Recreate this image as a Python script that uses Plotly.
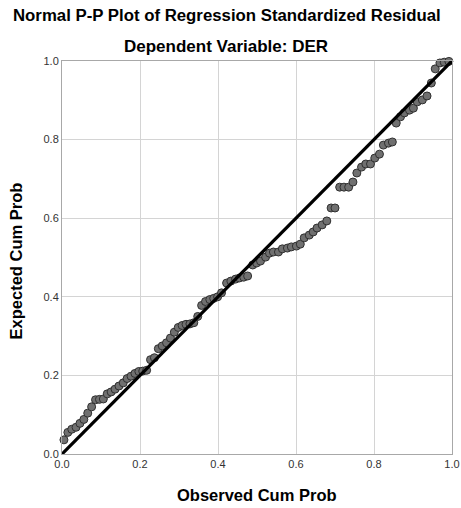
import plotly.graph_objects as go

observed = [0.005, 0.015, 0.025, 0.036, 0.046, 0.056, 0.066, 0.076, 0.086, 0.096,
            0.106, 0.116, 0.126, 0.136, 0.146, 0.157, 0.167, 0.177, 0.187, 0.197,
            0.207, 0.217, 0.227, 0.237, 0.247, 0.257, 0.268, 0.278, 0.288, 0.298,
            0.308, 0.318, 0.328, 0.338, 0.348, 0.358, 0.368, 0.379, 0.389, 0.399,
            0.409, 0.422, 0.433, 0.445, 0.455, 0.466, 0.476, 0.489, 0.499, 0.509,
            0.522, 0.532, 0.542, 0.555, 0.565, 0.578, 0.588, 0.601, 0.611, 0.621,
            0.634, 0.644, 0.654, 0.667, 0.679, 0.690, 0.700, 0.712, 0.723, 0.735,
            0.746, 0.756, 0.768, 0.779, 0.791, 0.802, 0.814, 0.824, 0.837, 0.847,
            0.857, 0.868, 0.878, 0.891, 0.901, 0.911, 0.924, 0.936, 0.947, 0.957,
            0.969, 0.980, 0.992]
expected = [0.036, 0.055, 0.063, 0.068, 0.078, 0.088, 0.104, 0.120, 0.138, 0.139,
            0.140, 0.153, 0.158, 0.165, 0.173, 0.181, 0.192, 0.198, 0.205, 0.210,
            0.211, 0.213, 0.240, 0.245, 0.268, 0.275, 0.283, 0.295, 0.310, 0.322,
            0.327, 0.330, 0.331, 0.334, 0.350, 0.378, 0.388, 0.393, 0.396, 0.400,
            0.410, 0.435, 0.440, 0.445, 0.448, 0.450, 0.453, 0.481, 0.486, 0.491,
            0.501, 0.511, 0.514, 0.514, 0.522, 0.524, 0.527, 0.529, 0.534, 0.550,
            0.557, 0.565, 0.575, 0.583, 0.593, 0.626, 0.626, 0.679, 0.679, 0.679,
            0.692, 0.715, 0.730, 0.738, 0.738, 0.753, 0.763, 0.786, 0.791, 0.794,
            0.842, 0.858, 0.868, 0.875, 0.880, 0.896, 0.901, 0.911, 0.944, 0.980,
            0.995, 0.997, 0.999]
ref_line = [0.0, 1.0]
ticks = [0.0, 0.2, 0.4, 0.6, 0.8, 1.0]
tick_text = ["0.0", "0.2", "0.4", "0.6", "0.8", "1.0"]

font = "Liberation Sans, Arial, sans-serif"

fig = go.Figure()
fig.add_trace(go.Scatter(
    x=observed, y=expected, mode="markers",
    marker=dict(size=8, color="#707070", line=dict(color="#303030", width=1)),
    cliponaxis=False, showlegend=False))
fig.add_trace(go.Scatter(
    x=ref_line, y=ref_line, mode="lines",
    line=dict(color="#000000", width=3.3), cliponaxis=False, showlegend=False))

axis_common = dict(range=[0, 1], tickvals=ticks, ticktext=tick_text,
                   showgrid=True, gridcolor="#d4d4d4", gridwidth=1,
                   showline=True, linecolor="#a8a8a8", linewidth=1, mirror=True,
                   zeroline=False, ticks="", automargin=False, ticklabeloverflow="allow",
                   tickfont=dict(family=font, size=11, color="#333333"))

fig.update_layout(
    width=461, height=508,
    margin=dict(l=62, r=9, t=61, b=54),
    paper_bgcolor="white", plot_bgcolor="white",
    font=dict(family=font),
    xaxis=dict(**axis_common),
    yaxis=dict(**axis_common),
    annotations=[
        dict(text="<b>Normal P-P Plot of Regression Standardized Residual</b>",
             xref="paper", yref="paper", x=0.424, y=1, yshift=46, xanchor="center", yanchor="middle",
             showarrow=False, font=dict(family=font, size=16.8, color="#000000")),
        dict(text="<b>Dependent Variable: DER</b>",
             xref="paper", yref="paper", x=0.42, y=1, yshift=15, xanchor="center", yanchor="middle",
             showarrow=False, font=dict(family=font, size=17, color="#000000")),
        dict(text="<b>Observed Cum Prob</b>",
             xref="paper", yref="paper", x=0.5, y=0, yshift=-41, xanchor="center", yanchor="middle",
             showarrow=False, font=dict(family=font, size=16.5, color="#000000")),
        dict(text="<b>Expected Cum Prob</b>", textangle=-90,
             xref="paper", yref="paper", x=0, y=0.49, xshift=-46, xanchor="center", yanchor="middle",
             showarrow=False, font=dict(family=font, size=16.5, color="#000000")),
    ],
)

fig.write_html("out.html", config={"displayModeBar": False},
               post_script="document.body.style.margin='0';document.body.style.overflow='hidden';")
